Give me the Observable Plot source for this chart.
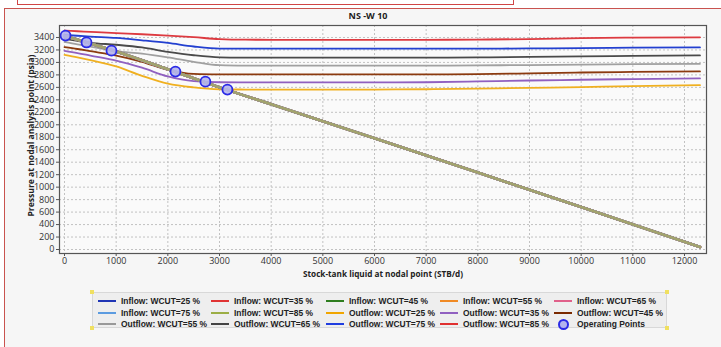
<!DOCTYPE html>
<html><head><meta charset="utf-8">
<script src="https://cdn.jsdelivr.net/npm/d3@7"></script>
<script src="https://cdn.jsdelivr.net/npm/@observablehq/plot@0.6"></script>
<style>
html,body{margin:0;padding:0;background:#fff;}
#wrap{position:relative;width:721px;height:347px;overflow:hidden;font-family:"Open Sans",sans-serif;}
#panel{position:absolute;left:4px;top:8px;width:800px;height:400px;border:1px solid #c9534f;background:#f6f6f6;box-sizing:border-box;}
#topbox{position:absolute;left:17px;top:-10px;width:497px;height:15px;border:1px solid #d04545;box-sizing:border-box;}
#chart{position:absolute;left:0;top:0;}
#title{position:absolute;left:268px;width:200px;top:10px;text-align:center;font-weight:700;font-size:9px;line-height:12px;color:#222;}
#legend{position:absolute;left:92px;top:292px;width:575px;height:36px;background:#eeeeee;border:1px solid #d8d8d8;box-sizing:border-box;}
.sw{position:absolute;width:18px;height:2px;}
.lt{position:absolute;font-family:"Liberation Sans",Arial,sans-serif;font-weight:700;font-size:9.5px;line-height:10px;height:10px;color:#222;white-space:nowrap;transform-origin:0 50%;}
.h{position:absolute;width:4px;height:4px;background:#f0e060;}
</style></head>
<body><div id="wrap">
<div id="panel"></div>
<div id="topbox"></div>
<div id="chart"></div>
<div id="title">NS -W 10</div>
<div id="legend"></div>
</div>
<script>
// ---- data ----
const xTicks = [0,1000,2000,3000,4000,5000,6000,7000,8000,9000,10000,11000,12000];
const yTicks = [0,200,400,600,800,1000,1200,1400,1600,1800,2000,2200,2400,2600,2800,3000,3200,3400];

const outflowQ = [0,250,500,1000,1500,2000,2500,3000,3500,4000,5000,6000,7000,8000,9000,10000,11000,12300];
const outflow25 = [3120,3080,3035,2935,2785,2660,2600,2570,2565,2563,2563,2565,2570,2580,2592,2605,2620,2636];
const outflow35 = [3185,3150,3110,3030,2915,2775,2700,2682,2680,2679,2679,2679,2682,2695,2710,2722,2733,2743];
const outflow45 = [3245,3215,3180,3110,3010,2880,2815,2808,2807,2807,2807,2807,2808,2812,2825,2838,2848,2855];
const outflow55 = [3330,3290,3255,3180,3140,3080,3010,2955,2948,2947,2947,2947,2948,2952,2958,2965,2972,2978];
const outflow65 = [3378,3345,3315,3283,3240,3170,3115,3082,3078,3077,3077,3077,3077,3080,3088,3097,3105,3112];
const outflow75 = [3440,3428,3415,3393,3355,3312,3255,3222,3222,3222,3222,3222,3222,3222,3224,3230,3236,3240];
const outflow85 = [3510,3500,3490,3470,3452,3430,3405,3374,3364,3363,3363,3363,3363,3366,3375,3388,3398,3403];

// the seven inflow (IPR) curves coincide on the picture
const inflowQ = [0,500,1000,2000,3000,4000,6000,8000,10000,12300];
const inflowP = [3425,3305,3175,2890,2600,2330,1785,1235,680,40];

const opQ = [20,426,909,2147,2727,3153];
const opP = [3430,3320,3189,2853,2692,2564];

const inflowNames = ["Inflow: WCUT=25 %","Inflow: WCUT=35 %","Inflow: WCUT=45 %","Inflow: WCUT=55 %","Inflow: WCUT=65 %","Inflow: WCUT=75 %","Inflow: WCUT=85 %"];
const inflowColors = ["#1f35b5","#e03434","#2e7d1e","#f08a24","#e0608a","#5b9be0","#9cae45"];
const outflowNames = ["Outflow: WCUT=25 %","Outflow: WCUT=35 %","Outflow: WCUT=45 %","Outflow: WCUT=55 %","Outflow: WCUT=65 %","Outflow: WCUT=75 %","Outflow: WCUT=85 %"];
const outflowColors = ["#f0b020","#9060c0","#8b3a0f","#a0a0a0","#4a4a4a","#2340d0","#dd3a40"];
const outflowSeries = [outflow25,outflow35,outflow45,outflow55,outflow65,outflow75,outflow85];
const inflowChartTop = "#a3a36c";

// ---- chart ----
const marks = [
  Plot.frame({fill:"#fafafa", stroke:null}),
  Plot.ruleX(xTicks, {stroke:"#c2c2c2", strokeDasharray:"2,2"}),
  Plot.ruleY(yTicks, {stroke:"#c2c2c2", strokeDasharray:"2,2"}),
];
outflowSeries.forEach((vals, i) => {
  marks.push(Plot.line(outflowQ.map((q,j)=>({q, p: vals[j]})), {x:"q", y:"p", stroke: outflowColors[i], strokeWidth:1.8, curve:"monotone-x"}));
});
inflowNames.forEach((n, i) => {
  const c = i === inflowNames.length-1 ? inflowChartTop : inflowColors[i];
  marks.push(Plot.line(inflowQ.map((q,j)=>({q, p: inflowP[j]})), {x:"q", y:"p", stroke: c, strokeWidth:2.6, curve:"monotone-x"}));
});
marks.push(
  Plot.dot(opQ.map((q,j)=>({q, p: opP[j]})), {x:"q", y:"p", r:5, stroke:"#2a2ae6", strokeWidth:1.8, fill:"#b4b4ee", fillOpacity:0.9}),
  Plot.frame({stroke:"#555", strokeWidth:1.2}),
  Plot.axisX(xTicks, {tickSize:3, tickPadding:1, tickFormat: d3.format("d"), label:null, stroke:"#555", fill:"#333"}),
  Plot.axisY(yTicks, {tickSize:3, tickPadding:2, tickFormat: d3.format("d"), label:null, stroke:"#555", fill:"#333"}),
  Plot.text(["Stock-tank liquid at nodal point (STB/d)"], {frameAnchor:"bottom", dy:23, fontWeight:"bold", fontSize:9, fill:"#222"}),
  Plot.text(["Pressure at nodal analysis point (psia)"], {frameAnchor:"left", dx:-28, rotate:-90, fontWeight:"bold", fontSize:9, fill:"#222"})
);

const chart = Plot.plot({
  width:721, height:347,
  marginLeft:59, marginRight:15, marginTop:25, marginBottom:94,
  x:{domain:[-97,12426]},
  y:{domain:[-64,3592]},
  style:{fontFamily:"'Open Sans', sans-serif", fontSize:"9px", background:"transparent", color:"#333"},
  marks
});
document.getElementById("chart").appendChild(chart);
chart.querySelectorAll("text").forEach(t => {
  if (t.textContent.startsWith("Stock-tank")) {
    t.setAttribute("textLength","160"); t.setAttribute("lengthAdjust","spacingAndGlyphs");
    t.setAttribute("text-anchor","start"); t.setAttribute("x","-80");
  }
  if (t.textContent.startsWith("Pressure")) {
    t.setAttribute("textLength","162"); t.setAttribute("lengthAdjust","spacingAndGlyphs");
    t.setAttribute("text-anchor","start"); t.setAttribute("x","-77");
  }
});

// ---- legend ----
const legendItems = [
  [inflowNames[0], inflowColors[0]], [inflowNames[1], inflowColors[1]], [inflowNames[2], inflowColors[2]], [inflowNames[3], inflowColors[3]], [inflowNames[4], inflowColors[4]],
  [inflowNames[5], inflowColors[5]], [inflowNames[6], inflowColors[6]], [outflowNames[0], "#f0a500"], [outflowNames[1], outflowColors[1]], [outflowNames[2], "#7a2a00"],
  [outflowNames[3], "#999999"], [outflowNames[4], "#444444"], [outflowNames[5], "#1f3de0"], [outflowNames[6], "#e03030"], ["Operating Points", null]
];
const colX = [5, 118, 233, 347, 461];   // relative to legend box
const rowY = [8, 19.5, 31];
const cv = document.createElement("canvas").getContext("2d");
cv.font = "700 9.5px 'Liberation Sans'";
const k = 79 / cv.measureText("Inflow: WCUT=25 %").width;
const lg = document.getElementById("legend");
legendItems.forEach(([name, color], i) => {
  const c = i % 5, r = Math.floor(i / 5);
  if (color) {
    const s = document.createElement("div"); s.className = "sw";
    s.style.left = colX[c] + "px"; s.style.top = (rowY[r] - 1) + "px"; s.style.background = color;
    lg.appendChild(s);
  } else {
    const s = document.createElement("div");
    s.style.cssText = `position:absolute;left:${colX[c]+4}px;top:${rowY[r]-5}px;width:7px;height:7px;border:2px solid #2a2ae6;border-radius:50%;background:#b4b4ee;`;
    lg.appendChild(s);
  }
  const t = document.createElement("div"); t.className = "lt";
  t.textContent = name;
  t.style.left = (colX[c] + 23) + "px"; t.style.top = (rowY[r] - 5) + "px";
  t.style.transform = `scaleX(${Math.min(1.05,k)})`;
  lg.appendChild(t);
});
[[-3,-3],[572,-3],[-3,33],[572,33]].forEach(([x,y]) => {
  const h = document.createElement("div"); h.className = "h";
  h.style.left = x + "px"; h.style.top = y + "px"; lg.appendChild(h);
});
</script>
</body></html>
